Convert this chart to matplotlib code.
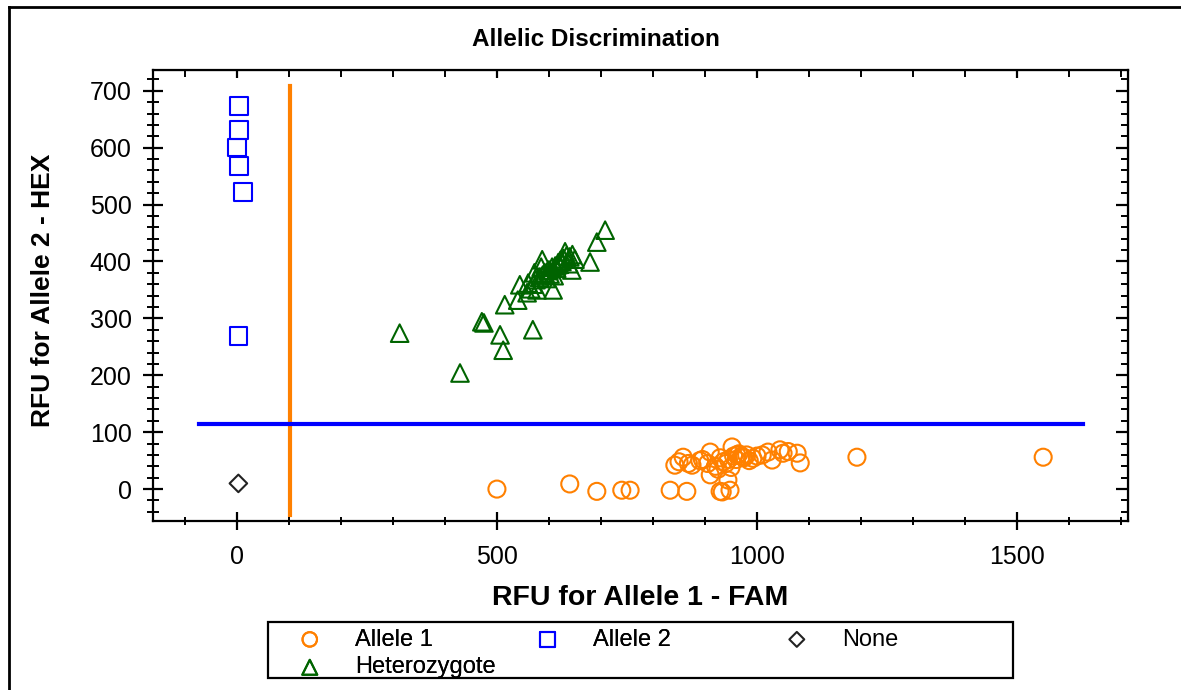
import numpy as np
import matplotlib.pyplot as plt
from matplotlib.lines import Line2D
from matplotlib.patches import Rectangle
from matplotlib.ticker import MultipleLocator

plt.rcParams['font.family'] = ['Liberation Sans', 'DejaVu Sans']

# Allele 1 (FAM, orange circles)
allele1_x = [500, 640, 692, 740, 756, 833, 865, 929, 944, 948, 933,
             842, 858, 875, 850, 868, 890, 910, 952, 929, 961, 973, 992,
             910, 920, 935, 945, 955, 965, 975, 985, 940, 950, 960, 970,
             980, 925, 905, 895, 1000, 1021, 1044, 1050, 1077, 1083, 1029,
             1010, 1060, 1192, 1550]
allele1_y = [0, 9, -4, -2, -2, -2, -4, -4, 16, -2, -5,
             42, 56, 42, 48, 45, 50, 65, 74, 55, 60, 56, 54,
             25, 40, 48, 52, 58, 62, 55, 50, 45, 38, 52, 58,
             60, 35, 45, 52, 58, 65, 69, 63, 63, 46, 51,
             60, 66, 56, 56]

# Allele 2 (HEX, blue squares)
allele2_x = [4, 4, 0, 4, 12, 3]
allele2_y = [673, 631, 600, 568, 522, 269]

# No call (black diamond)
none_x = [3]
none_y = [10]

# Heterozygote (green triangles)
het_x = [313, 429, 471, 475, 506, 512, 569, 515, 540, 544, 577, 608,
         587, 631, 644, 679, 692, 708, 558, 565, 570, 575, 582, 588,
         592, 598, 602, 606, 612, 618, 622, 628, 634, 640, 645, 650,
         585, 595, 600, 610, 620, 560, 572, 615, 625, 638]
het_y = [274, 204, 294, 292, 271, 244, 280, 324, 332, 359, 350, 350,
         403, 417, 385, 399, 434, 455, 345, 352, 360, 368, 372, 376,
         380, 384, 378, 390, 392, 398, 402, 405, 410, 408, 412, 404,
         390, 370, 385, 375, 395, 362, 380, 388, 400, 396]

# call thresholds
fam_cut = 102
hex_cut = 115

fig = plt.figure(figsize=(11.81, 6.9), dpi=100)
ax = fig.add_axes([0.1296, 0.245, 0.8255, 0.654])

ax.plot([fam_cut, fam_cut], [-45, 708], color='#FF8000', lw=3, zorder=1)
ax.plot([-73, 1627], [hex_cut, hex_cut], color='#0000FF', lw=3, zorder=1)

h1 = ax.scatter(allele1_x, allele1_y, s=150, marker='o', facecolors='none',
                edgecolors='#FF8000', linewidths=1.5, label='Allele 1', zorder=3)
h2 = ax.scatter(allele2_x, allele2_y, s=160, marker='s', facecolors='none',
                edgecolors='#0000FF', linewidths=1.5, label='Allele 2', zorder=3)
h3 = ax.scatter(none_x, none_y, s=80, marker='D', facecolors='none',
                edgecolors='#222222', linewidths=1.5, label='None', zorder=3)
h4 = ax.scatter(het_x, het_y, s=160, marker='^', facecolors='none',
                edgecolors='#006400', linewidths=1.5, label='Heterozygote', zorder=3)

ax.set_xlim(-161, 1713)
ax.set_ylim(-56, 737)
ax.set_xticks([0, 500, 1000, 1500])
ax.set_yticks(range(0, 701, 100))
ax.xaxis.set_minor_locator(MultipleLocator(100))
ax.yaxis.set_minor_locator(MultipleLocator(20))
ax.tick_params(axis='y', which='major', direction='inout', length=15, width=1.6,
               labelsize=18, pad=8)
ax.tick_params(axis='y', which='minor', direction='inout', length=8.5, width=1.4)
ax.tick_params(axis='x', which='major', direction='inout', length=13, width=1.6,
               labelsize=18, pad=11)
ax.tick_params(axis='x', which='minor', direction='inout', length=6, width=1.4)
for sp in ax.spines.values():
    sp.set_linewidth(1.6)

# inward ticks on top and right, no labels
top = ax.secondary_xaxis('top')
top.set_xticks([0, 500, 1000, 1500])
top.xaxis.set_minor_locator(MultipleLocator(100))
top.tick_params(which='major', direction='in', length=6, width=1.6, labeltop=False)
top.tick_params(which='minor', direction='in', length=5, width=1.4)
right = ax.secondary_yaxis('right')
right.set_yticks(range(0, 701, 100))
right.yaxis.set_minor_locator(MultipleLocator(20))
right.tick_params(which='major', direction='in', length=9, width=1.6, labelright=False)
right.tick_params(which='minor', direction='in', length=5, width=1.4)

fig.text(0.5047, 0.943, 'Allelic Discrimination', fontsize=17.5, fontweight='bold',
         ha='center', va='center')
ax.set_xlabel('RFU for Allele 1 - FAM', fontsize=20.5, fontweight='bold')
ax.set_ylabel('RFU for Allele 2 - HEX', fontsize=19, fontweight='bold')
ax.xaxis.set_label_coords(0.4995, -0.143)
ax.yaxis.set_label_coords(-0.1005, 0.51)

# legend: three columns laid out like the original panel
leg_kw = dict(loc='upper left', fontsize=17, frameon=False, borderpad=0,
              borderaxespad=0, handlelength=1.0, handletextpad=1.4,
              labelspacing=0.25, markerscale=0.85)
fig.add_artist(fig.legend(handles=[h1, h4], bbox_to_anchor=(0.2523, 0.089), **leg_kw))
fig.add_artist(fig.legend(handles=[h2], bbox_to_anchor=(0.4539, 0.089), **leg_kw))
fig.legend(handles=[h3], bbox_to_anchor=(0.6647, 0.089), **leg_kw)
fig.patches.append(Rectangle((0.2269, 0.0174), 0.6308, 0.0812, transform=fig.transFigure,
                             fill=False, edgecolor='black', lw=1.6))

# outer border of the panel (left and top edges)
fig.add_artist(Line2D([0.0076, 0.0076], [0, 0.99], transform=fig.transFigure,
                      color='black', lw=2))
fig.add_artist(Line2D([0.0076, 1.0], [0.99, 0.99], transform=fig.transFigure,
                      color='black', lw=2))

fig.savefig('out.png', dpi=100)
